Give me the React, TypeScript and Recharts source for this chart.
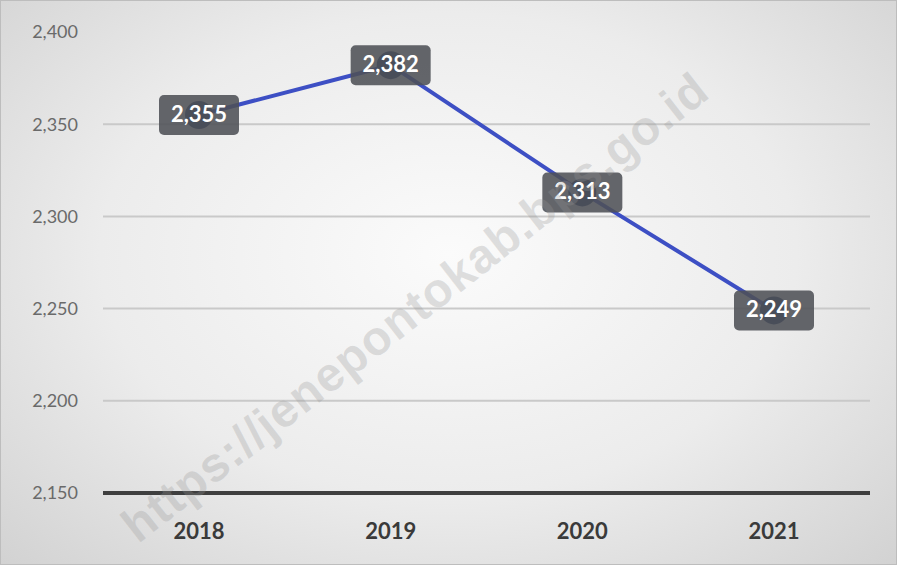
import React from "react";
import { LineChart, Line, XAxis, YAxis, CartesianGrid, LabelList } from "recharts";

const years = ["2018", "2019", "2020", "2021"];
const values = [2355, 2382, 2313, 2249];
const yTicks = [2150, 2200, 2250, 2300, 2350, 2400];

const data = years.map((year, i) => ({ year, value: values[i] }));

const fmt = (v: number) => v.toLocaleString("en-US");

function ValueBox(props: any) {
  const { x, y, value } = props;
  const w = 80;
  const h = 40;
  return (
    <g>
      <rect x={x - w / 2} y={y - h / 2} width={w} height={h} rx={5} fill="#4f5157" fillOpacity={0.88} />
      <text
        x={x}
        y={y + 1}
        textAnchor="middle"
        dominantBaseline="middle"
        fill="#ffffff"
        fontSize={22}
        fontWeight={700}
        fontFamily="Lato, 'Open Sans', sans-serif"
      >
        {fmt(Number(value))}
      </text>
    </g>
  );
}

export default function App() {
  return (
    <div
      style={{
        position: "absolute",
        left: 0,
        top: 0,
        width: 897,
        height: 565,
        boxSizing: "border-box",
        border: "1px solid #bdbdbd",
        background: "radial-gradient(ellipse at 50% 45%, #fbfbfb 0%, #ececec 55%, #d2d2d2 100%)",
        overflow: "hidden",
      }}
    >
      <LineChart width={895} height={563} data={data} margin={{ top: 31, right: 26, bottom: 0, left: 0 }}>
        <CartesianGrid
          vertical={false}
          horizontalValues={[2200, 2250, 2300, 2350]}
          stroke="#c9c9c9"
          strokeWidth={2}
        />
        <XAxis
          dataKey="year"
          padding={{ left: 96, right: 96 }}
          axisLine={{ stroke: "#3f3f3f", strokeWidth: 4 }}
          tickLine={false}
          tickMargin={24}
          height={71}
          tick={{ fontSize: 22, fontWeight: 700, fill: "#3a3a3a", fontFamily: "Lato, 'Open Sans', sans-serif" }}
        />
        <YAxis
          domain={[2150, 2400]}
          ticks={yTicks}
          interval={0}
          width={102}
          axisLine={false}
          tickLine={false}
          tickMargin={19}
          tickFormatter={fmt}
          tick={{ fontSize: 18, fill: "#6a6a6a", fontFamily: "Lato, 'Open Sans', sans-serif" }}
        />
        <Line
          type="linear"
          dataKey="value"
          stroke="#3d4fc4"
          strokeWidth={4}
          dot={{ r: 12, fill: "#27386e", stroke: "#27386e" }}
          isAnimationActive={false}
        >
          <LabelList dataKey="value" content={<ValueBox />} />
        </Line>
      </LineChart>
      <div
        style={{
          position: "absolute",
          left: 414,
          top: 306,
          transform: "translate(-50%, -50%) rotate(-38deg)",
          whiteSpace: "nowrap",
          fontFamily: "'Liberation Sans', Arial, sans-serif",
          fontWeight: 700,
          fontSize: 48,
          letterSpacing: 1,
          color: "rgba(150,150,150,0.28)",
          pointerEvents: "none",
        }}
      >
        https://jenepontokab.bps.go.id
      </div>
    </div>
  );
}
